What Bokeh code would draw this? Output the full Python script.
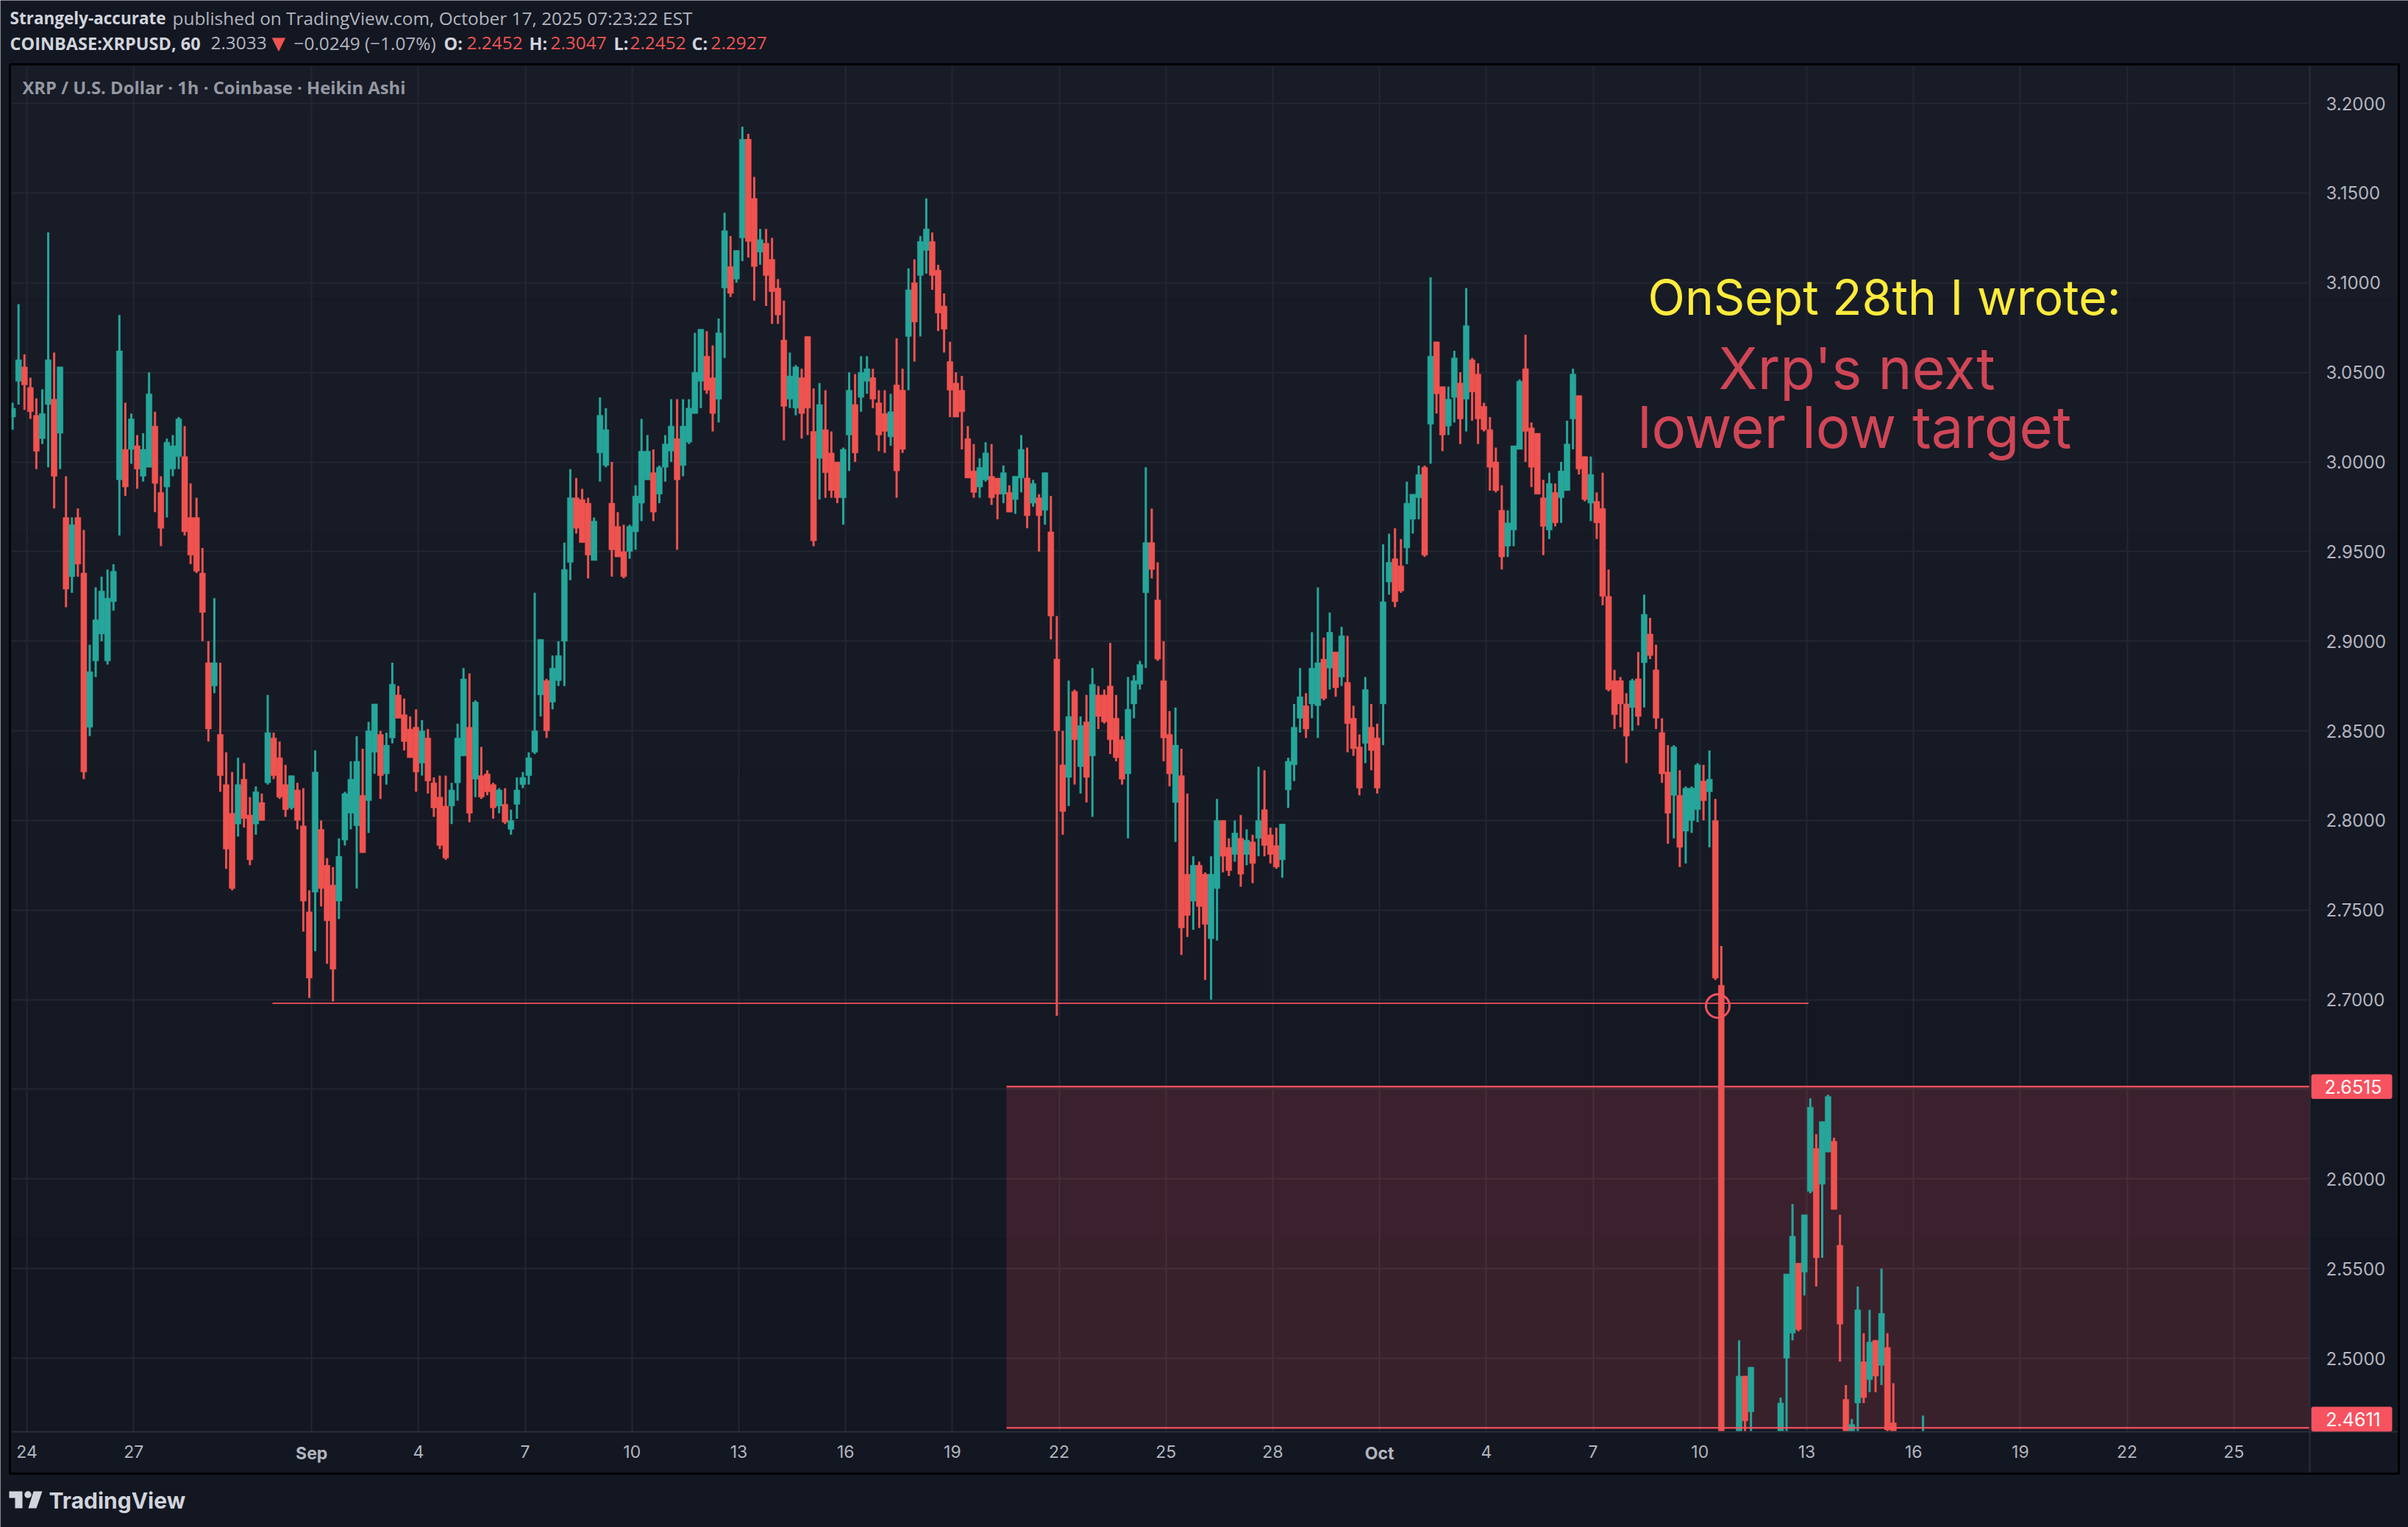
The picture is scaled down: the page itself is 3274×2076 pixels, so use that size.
from bokeh.core.properties import value
from bokeh.embed import file_html
from bokeh.layouts import column
from bokeh.models import ColumnDataSource, FixedTicker, Label, NumeralTickFormatter
from bokeh.plotting import figure
from bokeh.resources import INLINE

# ---- chart values: (direction, body top, body bottom, high, low), one per 4 hours
candles_august = [
 ("g",3.030,3.025,3.033,3.018),("g",3.057,3.045,3.088,3.032),("r",3.053,3.043,3.060,3.029),("r",3.0415,3.028,3.047,3.024),
 ("r",3.026,3.006,3.0355,2.996),("g",3.027,3.013,3.0405,3.010),("g",3.057,3.032,3.128,2.997),("r",3.035,2.992,3.061,2.974),
 ("g",3.053,3.016,3.053,2.996),("r",2.969,2.929,2.992,2.919),("g",2.965,2.936,2.969,2.927),("r",2.969,2.943,2.974,2.936),
 ("r",2.938,2.827,2.962,2.823),("g",2.883,2.852,2.898,2.847),("g",2.912,2.889,2.930,2.880),("g",2.928,2.904,2.936,2.900),
 ("g",2.924,2.889,2.940,2.887),("g",2.939,2.922,2.943,2.917),("g",3.062,2.990,3.082,2.959),("r",3.007,2.986,3.033,2.981),
 ("g",3.024,3.007,3.027,2.999),("r",3.009,2.996,3.015,2.985),("g",3.007,2.992,3.016,2.989),("g",3.038,2.997,3.050,2.997),
 ("r",3.020,2.988,3.028,2.972),("r",2.983,2.963,2.992,2.953),("g",3.011,2.986,3.013,2.969),("g",3.009,2.996,3.015,2.992),
 ("g",3.024,3.003,3.025,2.996),("r",3.003,2.961,3.020,2.959),("r",2.969,2.948,2.988,2.943),("r",2.969,2.939,2.980,2.938),
 ("r",2.938,2.916,2.952,2.900),("r",2.888,2.851,2.900,2.844),("g",2.888,2.875,2.924,2.871),("r",2.848,2.825,2.888,2.816),
 ("r",2.820,2.784,2.838,2.773),("r",2.804,2.762,2.827,2.761),("g",2.820,2.798,2.835,2.791),("r",2.823,2.801,2.832,2.796),
 ("r",2.803,2.778,2.813,2.775),("g",2.816,2.798,2.819,2.792),("r",2.810,2.800,2.815,2.800),("g",2.849,2.821,2.870,2.820),
 ("r",2.846,2.825,2.849,2.823),("r",2.835,2.813,2.844,2.812),("r",2.820,2.806,2.831,2.802),("g",2.825,2.807,2.825,2.806),
 ("r",2.817,2.800,2.821,2.795),("r",2.797,2.755,2.818,2.738),("r",2.749,2.712,2.761,2.701),
]
candles_september = [
 ("g",2.827,2.760,2.839,2.727),("r",2.795,2.762,2.800,2.752),("r",2.775,2.744,2.779,2.720),("r",2.764,2.717,2.774,2.699),
 ("g",2.780,2.755,2.790,2.745),("g",2.815,2.789,2.816,2.786),("g",2.823,2.804,2.833,2.795),("g",2.833,2.797,2.847,2.762),
 ("r",2.814,2.782,2.840,2.782),("g",2.850,2.811,2.855,2.793),("g",2.865,2.838,2.865,2.826),("r",2.848,2.825,2.850,2.812),
 ("g",2.842,2.826,2.849,2.820),("g",2.876,2.846,2.888,2.843),("r",2.870,2.857,2.875,2.857),("r",2.859,2.844,2.868,2.839),
 ("r",2.851,2.835,2.858,2.835),("r",2.852,2.827,2.862,2.816),("g",2.850,2.832,2.856,2.825),("r",2.846,2.822,2.851,2.815),
 ("r",2.821,2.807,2.824,2.802),("r",2.813,2.786,2.825,2.784),("r",2.808,2.779,2.825,2.778),("g",2.817,2.808,2.821,2.798),
 ("g",2.846,2.821,2.854,2.811),("g",2.879,2.836,2.885,2.836),("r",2.852,2.804,2.882,2.799),("g",2.866,2.823,2.867,2.813),
 ("r",2.825,2.813,2.841,2.812),("r",2.826,2.816,2.828,2.814),("r",2.820,2.807,2.821,2.801),("g",2.817,2.808,2.818,2.804),
 ("r",2.809,2.799,2.818,2.798),("g",2.800,2.795,2.806,2.792),("g",2.817,2.809,2.824,2.801),("g",2.824,2.820,2.827,2.818),
 ("g",2.835,2.825,2.838,2.820),("g",2.850,2.838,2.927,2.837),("g",2.901,2.870,2.901,2.858),("r",2.878,2.850,2.879,2.846),
 ("g",2.885,2.866,2.892,2.862),("g",2.892,2.878,2.900,2.875),("g",2.940,2.900,2.955,2.875),("g",2.980,2.944,2.996,2.934),
 ("r",2.980,2.963,2.991,2.960),("r",2.979,2.955,2.985,2.955),("r",2.977,2.948,2.980,2.935),("g",2.967,2.945,2.969,2.945),
 ("g",3.026,3.005,3.036,2.989),("g",3.018,2.998,3.030,2.997),("r",2.977,2.951,3.000,2.936),("r",2.964,2.947,2.972,2.947),
 ("r",2.950,2.936,2.965,2.935),("g",2.964,2.950,2.965,2.946),("g",2.981,2.961,2.987,2.951),("g",3.006,2.977,3.024,2.967),
 ("g",3.006,2.990,3.015,2.990),("r",2.994,2.972,3.007,2.967),("g",2.997,2.982,2.998,2.977),("g",3.010,2.997,3.015,2.989),
 ("g",3.020,3.006,3.035,3.000),("r",3.013,2.990,3.035,2.951),("g",3.020,2.998,3.035,2.992),("g",3.030,3.011,3.035,3.010),
 ("g",3.050,3.027,3.072,3.027),("g",3.074,3.045,3.074,3.030),("r",3.059,3.040,3.073,3.038),("r",3.047,3.027,3.065,3.017),
 ("g",3.072,3.035,3.080,3.022),("g",3.129,3.097,3.139,3.058),("r",3.109,3.094,3.126,3.092),("g",3.118,3.102,3.118,3.100),
 ("g",3.180,3.125,3.187,3.112),("r",3.180,3.123,3.183,3.114),("r",3.147,3.109,3.159,3.090),("g",3.124,3.117,3.130,3.110),
 ("r",3.122,3.104,3.130,3.087),("r",3.113,3.095,3.125,3.077),("r",3.097,3.082,3.102,3.077),("r",3.068,3.031,3.090,3.012),
 ("g",3.048,3.035,3.061,3.030),("g",3.053,3.030,3.054,3.026),("r",3.047,3.027,3.052,3.013),("r",3.070,3.030,3.070,3.015),
 ("r",3.017,2.956,3.041,2.953),("g",3.032,3.002,3.044,2.979),("r",3.018,2.994,3.040,2.980),("r",3.005,2.984,3.017,2.980),
 ("r",3.000,2.980,3.000,2.977),("g",3.007,2.980,3.008,2.965),("g",3.040,3.015,3.050,2.995),("r",3.032,3.005,3.049,3.000),
 ("g",3.050,3.036,3.059,3.028),("g",3.052,3.045,3.059,3.038),("r",3.047,3.035,3.052,3.030),("r",3.033,3.015,3.040,3.006),
 ("r",3.027,3.017,3.040,3.005),("g",3.028,3.014,3.038,3.009),("r",3.043,2.995,3.069,2.980),("r",3.040,3.007,3.052,3.005),
 ("g",3.096,3.070,3.108,3.040),("r",3.100,3.078,3.113,3.056),("g",3.123,3.104,3.126,3.070),("g",3.130,3.118,3.147,3.105),
 ("r",3.123,3.104,3.128,3.096),("r",3.107,3.083,3.110,3.073),("r",3.087,3.074,3.094,3.061),("r",3.056,3.040,3.067,3.025),
 ("r",3.044,3.025,3.050,3.025),("r",3.040,3.028,3.048,3.007),("r",3.013,2.991,3.020,2.991),("r",2.995,2.983,3.010,2.980),
 ("g",2.997,2.986,3.002,2.980),("g",3.005,2.990,3.011,2.989),("r",2.992,2.980,3.010,2.976),("r",2.991,2.982,2.991,2.968),
 ("g",2.994,2.982,2.998,2.977),("r",2.983,2.972,2.987,2.972),("g",2.992,2.979,2.992,2.971),("g",3.007,2.991,3.015,2.983),
 ("r",2.991,2.970,3.008,2.963),("g",2.988,2.977,2.990,2.975),("r",2.980,2.970,2.982,2.950),("g",2.994,2.973,2.994,2.965),
 ("r",2.961,2.914,2.981,2.901),("r",2.890,2.850,2.914,2.691),("r",2.831,2.805,2.850,2.792),("g",2.858,2.824,2.878,2.808),
 ("r",2.872,2.845,2.873,2.820),("g",2.853,2.830,2.858,2.815),("r",2.855,2.824,2.870,2.810),("g",2.876,2.836,2.885,2.802),
 ("r",2.870,2.858,2.875,2.851),("r",2.870,2.855,2.873,2.854),("r",2.875,2.845,2.899,2.837),("r",2.857,2.835,2.870,2.833),
 ("r",2.845,2.823,2.847,2.820),("g",2.862,2.826,2.880,2.790),("g",2.878,2.865,2.881,2.857),("g",2.887,2.876,2.889,2.873),
 ("g",2.955,2.927,2.997,2.885),("r",2.955,2.940,2.974,2.935),("r",2.923,2.890,2.944,2.889),("r",2.878,2.846,2.900,2.833),
 ("r",2.848,2.826,2.861,2.819),("g",2.842,2.810,2.863,2.788),("r",2.825,2.740,2.840,2.725),("r",2.770,2.747,2.815,2.735),
 ("g",2.775,2.755,2.780,2.739),("r",2.775,2.752,2.777,2.740),("r",2.770,2.742,2.771,2.711),("g",2.770,2.734,2.780,2.700),
 ("g",2.800,2.762,2.812,2.733),("r",2.800,2.780,2.800,2.771),("r",2.785,2.772,2.790,2.769),("g",2.793,2.781,2.800,2.777),
 ("r",2.790,2.770,2.803,2.763),("g",2.789,2.781,2.795,2.775),("r",2.788,2.776,2.792,2.765),("g",2.800,2.790,2.830,2.780),
 ("r",2.806,2.786,2.828,2.780),("r",2.792,2.781,2.796,2.776),("r",2.786,2.774,2.796,2.773),("g",2.798,2.778,2.798,2.768),
 ("g",2.833,2.817,2.835,2.807),("g",2.852,2.831,2.865,2.822),("g",2.869,2.857,2.885,2.849),("r",2.864,2.851,2.871,2.846),
 ("g",2.885,2.865,2.905,2.857),("g",2.888,2.864,2.930,2.846),("r",2.890,2.868,2.902,2.867),("g",2.905,2.885,2.916,2.873),
 ("r",2.894,2.874,2.894,2.869),("g",2.903,2.880,2.908,2.875),("r",2.877,2.854,2.903,2.838),("r",2.857,2.840,2.864,2.836),
 ("r",2.841,2.818,2.848,2.814),("g",2.873,2.843,2.880,2.832),("r",2.852,2.839,2.865,2.828),("r",2.846,2.818,2.854,2.815),
]
candles_october = [
 ("g",2.922,2.865,2.954,2.842),("g",2.944,2.933,2.960,2.926),("r",2.946,2.922,2.963,2.919),("r",2.942,2.928,2.957,2.927),
 ("g",2.977,2.952,2.989,2.943),("g",2.982,2.968,2.982,2.960),("g",2.993,2.980,2.998,2.968),("r",2.997,2.948,2.998,2.947),
 ("g",3.059,3.021,3.103,2.999),("r",3.067,3.038,3.067,3.027),("r",3.042,3.015,3.042,3.006),("g",3.035,3.020,3.042,3.015),
 ("g",3.058,3.036,3.062,3.022),("r",3.044,3.024,3.050,3.010),("g",3.076,3.035,3.097,3.017),("r",3.057,3.039,3.058,3.023),
 ("r",3.049,3.024,3.055,3.010),("r",3.031,3.018,3.033,3.017),("r",3.018,2.997,3.025,2.984),("r",3.000,2.984,3.008,2.983),
 ("r",2.973,2.947,2.987,2.940),("g",2.966,2.953,2.973,2.947),("g",3.009,2.962,3.009,2.953),("g",3.045,3.007,3.046,3.007),
 ("r",3.052,3.017,3.071,3.000),("r",3.019,2.997,3.022,2.986),("r",3.016,2.982,3.016,2.982),("r",2.980,2.964,2.990,2.948),
 ("g",2.988,2.962,2.994,2.957),("r",2.983,2.966,2.988,2.964),("g",2.995,2.980,3.000,2.966),("g",3.010,2.984,3.023,2.984),
 ("g",3.049,3.024,3.052,3.007),("r",3.037,2.996,3.037,2.993),("r",3.003,2.979,3.003,2.978),("g",2.993,2.977,3.003,2.967),
 ("r",2.978,2.966,2.983,2.957),("r",2.974,2.925,2.994,2.920),("r",2.925,2.873,2.940,2.872),("r",2.878,2.859,2.884,2.851),
 ("r",2.878,2.865,2.880,2.852),("r",2.865,2.847,2.871,2.832),("g",2.878,2.863,2.879,2.850),("r",2.879,2.858,2.894,2.853),
 ("g",2.915,2.888,2.926,2.863),("r",2.904,2.892,2.913,2.890),("r",2.884,2.857,2.898,2.851),("r",2.849,2.826,2.857,2.821),
 ("r",2.827,2.804,2.842,2.787),("g",2.841,2.814,2.842,2.790),("r",2.814,2.785,2.828,2.774),("g",2.818,2.794,2.819,2.776),
 ("g",2.818,2.800,2.819,2.793),("g",2.831,2.806,2.832,2.799),("r",2.822,2.811,2.831,2.800),("g",2.823,2.816,2.839,2.785),
 ("r",2.800,2.712,2.812,2.711),("r",2.708,2.440,2.730,2.430),("g",2.440,2.420,2.459,2.400),("g",2.440,2.420,2.450,2.400),
 ("g",2.490,2.440,2.510,2.430),("r",2.490,2.465,2.490,2.440),("g",2.495,2.470,2.495,2.440),("r",2.440,2.430,2.450,2.420),
 ("r",2.440,2.430,2.450,2.420),("r",2.440,2.430,2.450,2.420),("r",2.440,2.430,2.450,2.420),("g",2.475,2.440,2.478,2.430),
 ("g",2.547,2.500,2.547,2.450),("g",2.568,2.514,2.586,2.510),("r",2.553,2.516,2.553,2.515),("g",2.580,2.548,2.580,2.535),
 ("g",2.640,2.593,2.645,2.592),("r",2.617,2.556,2.625,2.540),("g",2.632,2.597,2.632,2.556),("g",2.646,2.615,2.647,2.615),
 ("r",2.621,2.583,2.623,2.583),("r",2.563,2.519,2.580,2.498),("r",2.477,2.440,2.485,2.430),("g",2.463,2.440,2.466,2.430),
 ("g",2.527,2.475,2.540,2.440),("r",2.498,2.478,2.514,2.475),("g",2.509,2.488,2.527,2.481),("r",2.510,2.490,2.510,2.481),
 ("g",2.525,2.496,2.550,2.485),("r",2.506,2.460,2.514,2.440),("r",2.464,2.440,2.486,2.430),("r",2.440,2.430,2.445,2.420),
 ("r",2.440,2.430,2.445,2.420),("r",2.440,2.430,2.445,2.420),("r",2.440,2.430,2.445,2.420),("g",2.450,2.440,2.468,2.430),
]
first_candle_day = -0.4     # days after Aug 24 of the first candle
candles_per_day = 6

tick_days = [0, 3, 8, 11, 14, 17, 20, 23, 26, 29, 32, 35, 38, 41, 44, 47, 50, 53, 56, 59, 62]
tick_labels = ["24", "27", "Sep", "4", "7", "10", "13", "16", "19", "22", "25", "28", "Oct", "4", "7", "10", "13", "16", "19", "22", "25"]
bold_ticks = ["Sep", "Oct"]
price_ticks = [2.5, 2.55, 2.6, 2.65, 2.7, 2.75, 2.8, 2.85, 2.9, 2.95, 3.0, 3.05, 3.1, 3.15, 3.2]

zone_top, zone_bottom = 2.6515, 2.4611
support_price = 2.698
support_day_from, support_day_to = 6.9, 50.05
zone_day_from = 27.52
marker_day, marker_price = 47.5, 2.6965

# ---- page geometry
W, H = 3274, 2076
FL, FR, FT, FB = 15, 3140, 89, 1946
def xd(px): return (px - 36) / 48.4
def yd(py): return 2.5 + (1846 - py) / 2437
def sx(px): return px - FL
def sy(py): return FB - py

BG = "#131722"; GRID = "#232732"; AX = "#2a2e39"; TXT = "#b2b5be"; HEAD = "#d1d4dc"
UP = "#26a69a"; DOWN = "#ef5350"; ZONE = "#f7525f"
MONO = "Inter"; SANS = "Open Sans"

def page_layer():
    """A transparent full-page figure whose scales are page pixels."""
    f = figure(width=W, height=H, output_backend="svg", toolbar_location=None, x_range=(0, W), y_range=(H, 0),
               x_axis_location=None, y_axis_location=None, min_border=0, outline_line_color=None,
               background_fill_alpha=0, border_fill_alpha=0, frame_align=False)
    f.grid.visible = False
    return f

# ---- bottom layer: page colour and vertical gradient of the pane
under = page_layer()
under.background_fill_color = BG; under.background_fill_alpha = 1
under.border_fill_color = BG; under.border_fill_alpha = 1
bands = 6
for k in range(bands):
    t = k / (bands - 1)
    col = "#%02x%02x%02x" % (round(24 - 5 * t), round(28 - 5 * t), round(39 - 5 * t))
    under.quad(left=[13], right=[3261], top=[87 + (2003 - 87) * k / bands], bottom=[87 + (2003 - 87) * (k + 1) / bands],
               fill_color=col, line_color=col, line_width=0.5)

# ---- middle layer: the chart
p = figure(width=W, height=H, output_backend="svg", toolbar_location=None,
           x_range=(xd(FL), xd(FR)), y_range=(yd(FB), yd(FT)), y_axis_location="right",
           min_border_left=FL, min_border_right=W - FR, min_border_top=FT, min_border_bottom=H - FB,
           background_fill_alpha=0, border_fill_alpha=0, outline_line_color=None, margin=(-H, 0, 0, 0), frame_align=False)

p.xaxis.ticker = FixedTicker(ticks=tick_days)
p.xaxis.major_label_overrides = {d: ("" if l in bold_ticks else l) for d, l in zip(tick_days, tick_labels)}
p.xaxis.major_label_text_font = MONO
p.xaxis.major_label_text_font_size = "23px"
p.xaxis.major_label_text_color = TXT
p.xaxis.major_label_standoff = 12
p.yaxis.ticker = FixedTicker(ticks=price_ticks)
p.yaxis.formatter = NumeralTickFormatter(format="0.0000")
p.yaxis.major_label_overrides = {2.65: ""}
p.yaxis.major_label_text_font = MONO
p.yaxis.major_label_text_font_size = "24px"
p.yaxis.major_label_text_color = TXT
p.yaxis.major_label_standoff = 16
for ax in (p.xaxis, p.yaxis):
    ax.major_tick_line_color = None
    ax.minor_tick_line_color = None
    ax.axis_line_color = AX
    ax.axis_line_width = 2
p.xgrid.ticker = FixedTicker(ticks=tick_days)
p.ygrid.ticker = FixedTicker(ticks=price_ticks)
p.grid.grid_line_color = GRID
p.grid.grid_line_width = 2

p.quad(left=[zone_day_from], right=[xd(FR)], top=[zone_top], bottom=[zone_bottom], fill_color=ZONE, fill_alpha=0.17, line_alpha=0)

candles = candles_august + candles_september + candles_october
days = [first_candle_day + i / candles_per_day for i in range(len(candles))]
colors = [UP if c[0] == "g" else DOWN for c in candles]
src = ColumnDataSource(dict(day=days, color=colors, top=[c[1] for c in candles], bottom=[c[2] for c in candles],
                            high=[c[3] for c in candles], low=[c[4] for c in candles]))
p.segment(x0="day", x1="day", y0="low", y1="high", color="color", line_width=3, source=src)
p.vbar(x="day", width=1 / candles_per_day, top="top", bottom="bottom", fill_color="color", line_color="color", line_width=0.5, source=src)

p.segment(x0=[support_day_from], x1=[support_day_to], y0=[support_price], y1=[support_price], line_color=ZONE, line_alpha=0.85, line_width=2)
p.segment(x0=[zone_day_from] * 2, x1=[xd(FR)] * 2, y0=[zone_top, zone_bottom], y1=[zone_top, zone_bottom], line_color=ZONE, line_alpha=0.9, line_width=2.5)
p.scatter(x=[marker_day], y=[marker_price], size=32, marker="circle", fill_alpha=0, line_color=ZONE, line_width=3)

def inlabel(px, py, text, color, size, style="normal", font=MONO):
    p.add_layout(Label(x=sx(px), y=sy(py), x_units="screen", y_units="screen", text=text, text_color=color,
                       text_font_size=f"{size}px", text_font=font, text_font_style=style, text_align="left",
                       text_baseline="middle"))

inlabel(30, 118, "XRP / U.S. Dollar \u00b7 1h \u00b7 Coinbase \u00b7 Heikin Ashi", "#9598a1", 23.8, "bold", SANS)
inlabel(2240, 403, "OnSept 28th I wrote:", "#ffeb3b", 66)
inlabel(2336, 500, "Xrp's next", "#d04656", 78)
inlabel(2226, 580, "lower low target", "#d04656", 78)

# ---- top layer: everything that sits outside the chart frame
over = page_layer()
over.margin = (-H, 0, 0, 0)

def label(px, py, text, color, size, font=SANS, style="normal", align="left"):
    over.text(x=[px], y=[py], text=[text], text_color=color, text_font=value(font), text_font_size=value(f"{size}px"),
              text_font_style=style, text_align=align, text_baseline="middle")

def box(x0, x1, y0, y1, color, **kw):
    over.quad(left=[x0], right=[x1], top=[y0], bottom=[y1], fill_color=color, line_alpha=0, **kw)

box(FR - 1, FR + 1, FB, 2002, AX)
box(FR, 3260, FB - 1, FB + 1, AX)
over.quad(left=[13], right=[3261], top=[87], bottom=[2003], fill_alpha=0, line_color="#000000", line_width=3)

for y0, y1, txt in ((1460, 1493.5, "2.6515"), (1912, 1945.7, "2.4611")):
    box(3142, 3252, y0, y1, "#f7525f", border_radius=3)
    label(3199, (y0 + y1) / 2, txt, "#ffffff", 25, font=MONO, align="center")

for d, l in zip(tick_days, tick_labels):
    if l in bold_ticks:
        label(36 + 48.4 * d, 1975, l, TXT, 23, font=MONO, style="bold", align="center")

label(13, 24, "Strangely-accurate", HEAD, 22.5, style="bold")
label(234, 24, "published on TradingView.com, October 17, 2025 07:23:22 EST", TXT, 24.4)
label(13, 58, "COINBASE:XRPUSD, 60", HEAD, 23.5, style="bold")
label(286, 58, "2.3033", TXT, 24.4)
label(369, 58, "\u25BC", DOWN, 24, font="DejaVu Sans")
label(399, 58, "\u22120.0249 (\u22121.07%)", TXT, 24.4)
for x, t in ((603, "O:"), (719, "H:"), (834, "L:"), (940, "C:")):
    label(x, 58, t, HEAD, 23.5, style="bold")
for x, t in ((634, "2.2452"), (748, "2.3047"), (856, "2.2452"), (966, "2.2927")):
    label(x, 58, t, DOWN, 24.4)

over.patch(x=[12, 30, 30, 20, 20, 12], y=[2027, 2027, 2050, 2050, 2036, 2036], fill_color=HEAD, line_alpha=0)
over.patch(x=[45, 57, 49, 38], y=[2027, 2027, 2050, 2050], fill_color=HEAD, line_alpha=0)
over.scatter(x=[37.5], y=[2031.5], size=9.5, marker="circle", fill_color=HEAD, line_alpha=0)
label(66, 2039, "TradingView", HEAD, 30, font=MONO, style="bold")

root = column(under, p, over, width=W, height=H, margin=0, spacing=0)
open("out.html", "w").write(file_html(root, INLINE))
